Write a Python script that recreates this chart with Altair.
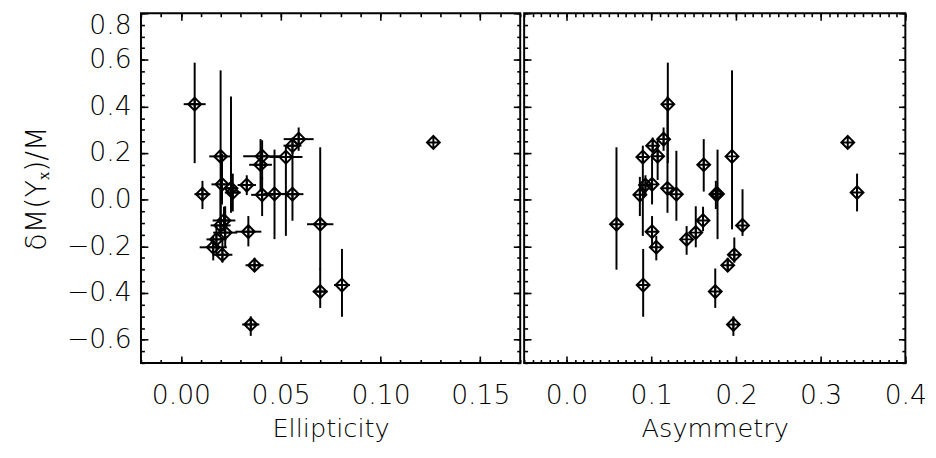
import altair as alt
import pandas as pd

# ---------------- data ----------------
y_val = [0.41, 0.26, 0.246, 0.232, 0.186, 0.187, 0.183, 0.150, 0.066, 0.063,
         0.049, 0.031, 0.024, 0.021, 0.025, 0.024, -0.089, -0.105, -0.11, -0.137,
         -0.141, -0.17, -0.204, -0.236, -0.281, -0.366, -0.394, -0.535]
y_lo = [0.157, 0.21, 0.246, 0.197, -0.127, 0.085, -0.155, 0.035, -0.02, 0.02,
        -0.056, -0.05, -0.04, -0.07, -0.169, -0.09, -0.135, -0.30, -0.155, -0.2,
        -0.204, -0.236, -0.26, -0.27, -0.31, -0.502, -0.464, -0.584]
y_hi = [0.588, 0.31, 0.246, 0.267, 0.555, 0.255, 0.232, 0.26, 0.197, 0.105,
        0.443, 0.112, 0.081, 0.098, 0.215, 0.21, -0.03, 0.225, 0.045, -0.07,
        -0.028, -0.113, -0.155, -0.162, -0.249, -0.211, -0.295, -0.5]
ellipticity = [0.0069, 0.059, 0.1265, 0.0559, 0.0199, 0.0407, 0.0526, 0.0399, 0.0206, 0.033,
               0.0251, 0.026, 0.0108, 0.0407, 0.0469, 0.0559, 0.0216, 0.0698, 0.0199, 0.0338,
               0.0222, 0.0178, 0.0162, 0.0208, 0.0369, 0.0807, 0.0698, 0.035]
ellipticity_err = [0.0055, 0.0075, 0.0, 0.0045, 0.0057, 0.0095, 0.0083, 0.0057, 0.0053, 0.0046,
                   0.003, 0.004, 0.004, 0.0055, 0.0055, 0.0055, 0.0057, 0.0066, 0.005, 0.0065,
                   0.006, 0.005, 0.0068, 0.005, 0.0045, 0.004, 0.0037, 0.0043]
asymmetry = [0.1196, 0.1146, 0.332, 0.1017, 0.1954, 0.1076, 0.0901, 0.162, 0.101, 0.0932,
             0.1192, 0.343, 0.1763, 0.0866, 0.1783, 0.1297, 0.1612, 0.059, 0.2078, 0.101,
             0.1526, 0.1418, 0.106, 0.1981, 0.1903, 0.0905, 0.1756, 0.197]

# ---------------- axes ----------------
y_domain = [-0.7, 0.8]
y_major = [-0.6, -0.4, -0.2, 0.0, 0.2, 0.4, 0.6, 0.8]
y_minor = [round(-0.7 + 0.05 * i, 2) for i in range(31)]
ell_domain = [-0.02, 0.17]
ell_major = [0.0, 0.05, 0.10, 0.15]
ell_minor = [round(-0.02 + 0.01 * i, 2) for i in range(20)]
asym_domain = [-0.05, 0.40]
asym_major = [0.0, 0.1, 0.2, 0.3, 0.4]
asym_minor = [round(-0.05 + 0.01 * i, 2) for i in range(46)]

FONT = "DejaVu Sans"
LFS = 27
TFS = 26
MAJ = 7
MIN = 3.5
MARKER = "M0,-1L1,0L0,1L-1,0Z M-1,0L1,0 M0,-1L0,1"

df = pd.DataFrame({
    "y": y_val, "y_lo": y_lo, "y_hi": y_hi,
    "ell": ellipticity, "ell_err": ellipticity_err, "asym": asymmetry,
})
df["e_lo"] = df["ell"] - df["ell_err"]
df["e_hi"] = df["ell"] + df["ell_err"]


def axis(orient, values, size, labels=False, title=None, fmt=None, pad=0,
         flush=False, tpad=0, tfs=TFS):
    kw = dict(orient=orient, values=values, tickSize=size, offset=-size,
              labels=labels, title=title, domain=False, grid=False,
              ticks=True, tickColor="black", tickWidth=1.6, minExtent=0,
              labelFont=FONT, labelFontSize=LFS, labelColor="black",
              labelFontWeight=200, labelPadding=pad, labelFlush=flush,
              labelOverlap=False, titleFont=FONT, titleFontSize=tfs,
              titleFontWeight=200, titleColor="black", titlePadding=tpad)
    if fmt:
        kw["format"] = fmt
    return alt.Axis(**kw)


def panel(xfield, xdom, xmajor, xminor, xfmt, xtitle, left, width):
    xs = alt.Scale(domain=xdom, nice=False, zero=False)
    ys = alt.Scale(domain=y_domain, nice=False, zero=False)
    base = alt.Chart(df)
    ytitle = "δM(Yₓ)/M" if left else None

    yerr = base.mark_rule(color="black", strokeWidth=2).encode(
        x=alt.X(f"{xfield}:Q", scale=xs,
                axis=axis("bottom", xmajor, MAJ, True, xtitle, xfmt, 20, False, 8)),
        y=alt.Y("y_lo:Q", scale=ys,
                axis=axis("left", y_major, MAJ, left, ytitle, ".1f", 10, True, 15, 29)),
        y2="y_hi:Q",
    )
    if left:
        second = base.mark_rule(color="black", strokeWidth=2).encode(
            x=alt.X("e_lo:Q", scale=xs, axis=axis("bottom", xminor, MIN)),
            x2="e_hi:Q",
            y=alt.Y("y:Q", scale=ys, axis=axis("left", y_minor, MIN)),
        )
    else:
        second = base.mark_point(opacity=0).encode(
            x=alt.X(f"{xfield}:Q", scale=xs, axis=axis("bottom", xminor, MIN)),
            y=alt.Y("y:Q", scale=ys, axis=axis("left", y_minor, MIN)),
        )
    markers = base.mark_point(shape=MARKER, filled=False, size=170,
                              strokeWidth=2, color="black", opacity=1).encode(
        x=alt.X(f"{xfield}:Q", scale=xs, axis=axis("top", xmajor, MAJ)),
        y=alt.Y("y:Q", scale=ys, axis=axis("right", y_major, MAJ)),
    )
    dummy = base.mark_point(opacity=0).encode(
        x=alt.X(f"{xfield}:Q", scale=xs, axis=axis("top", xminor, MIN)),
        y=alt.Y("y:Q", scale=ys, axis=axis("right", y_minor, MIN)),
    )
    return alt.layer(yerr, second, markers, dummy).resolve_axis(
        x="independent", y="independent").properties(width=width, height=355)


left_panel = panel("ell", ell_domain, ell_major, ell_minor, ".2f",
                   "Ellipticity", True, 385)
right_panel = panel("asym", asym_domain, asym_major, asym_minor, ".1f",
                    "Asymmetry", False, 387)

chart = alt.hconcat(left_panel, right_panel, spacing=0).properties(
    padding={"left": 14, "top": 0, "right": 0, "bottom": 0},
    background="white",
).configure_view(stroke="black", strokeWidth=2)

chart.save("out.html", embed_options={"renderer": "svg", "actions": False})
